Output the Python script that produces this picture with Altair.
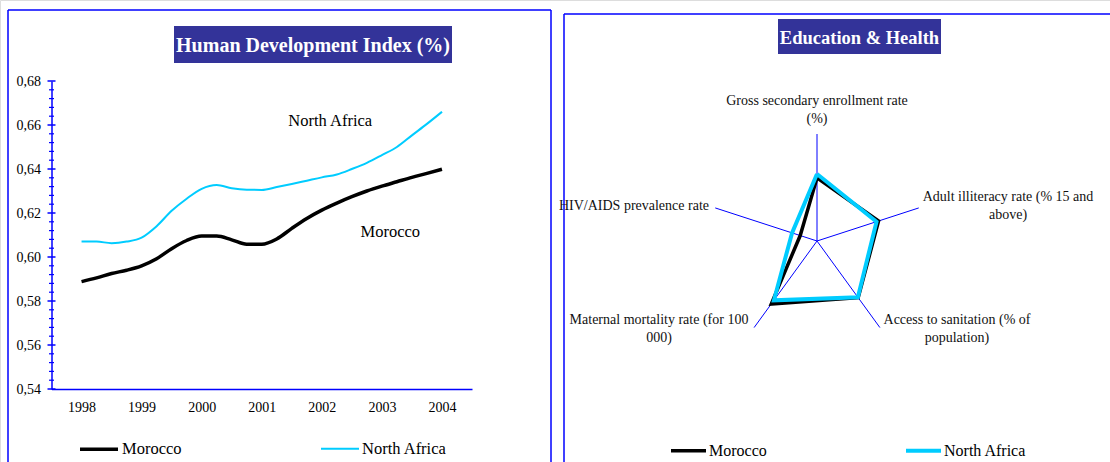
import altair as alt
import pandas as pd

# ---------------- data ----------------
series_names = ["Morocco", "North Africa"]

years = [1998.00, 1998.25, 1998.50, 1998.75, 1999.00, 1999.25, 1999.50, 1999.75,
         2000.00, 2000.25, 2000.50, 2000.75, 2001.00, 2001.25, 2001.50, 2001.75,
         2002.00, 2002.25, 2002.50, 2002.75, 2003.00, 2003.25, 2003.50, 2003.75, 2004.00]
morocco_hdi = [0.5888, 0.5905, 0.5925, 0.5940, 0.5960, 0.5992, 0.6038, 0.6075,
               0.6095, 0.6095, 0.6078, 0.6058, 0.6058, 0.6082, 0.6130, 0.6175,
               0.6213, 0.6245, 0.6274, 0.6300, 0.6322, 0.6342, 0.6362, 0.6380, 0.6399]
north_africa_hdi = [0.6070, 0.6070, 0.6063, 0.6070, 0.6088, 0.6140, 0.6210, 0.6265,
                    0.6310, 0.6327, 0.6313, 0.6306, 0.6305, 0.6318, 0.6332, 0.6347,
                    0.6362, 0.6375, 0.6400, 0.6428, 0.6463, 0.6500, 0.6553, 0.6605, 0.6660]
year_labels = [1998, 1999, 2000, 2001, 2002, 2003, 2004]
hdi_major_ticks = [0.54, 0.56, 0.58, 0.60, 0.62, 0.64, 0.66, 0.68]

radar_axes = ["Gross secondary enrollment rate (%)",
              "Adult illiteracy rate (% 15 and above)",
              "Access to sanitation (% of population)",
              "Maternal mortality rate (for 100 000)",
              "HIV/AIDS prevalence rate"]
radar_label_lines = [["Gross secondary enrollment rate", "(%)"],
                     ["Adult illiteracy rate (% 15 and", "above)"],
                     ["Access to sanitation (% of", "population)"],
                     ["Maternal mortality rate (for 100", "000)"],
                     ["HIV/AIDS prevalence rate"]]
morocco_radar = [0.59, 0.605, 0.655, 0.727, 0.165]
north_africa_radar = [0.626, 0.585, 0.65, 0.685, 0.245]

# ---------------- style / layout ----------------
FONT = "Liberation Serif"
BLUE = "#0000FF"
NAVY = "#333399"
CYAN = "#00CCFF"
W, H = 1110, 462

dummy = pd.DataFrame({"d": [0]})


def rule(x1, y1, x2, y2, color=BLUE, w=1.5):
    return alt.Chart(dummy).mark_rule(color=color, strokeWidth=w).encode(
        x=alt.value(x1), y=alt.value(y1), x2=alt.value(x2), y2=alt.value(y2))


def title_box(x1, x2, y1, y2, text, size):
    box = alt.Chart(dummy).mark_rect(color=NAVY).encode(
        x=alt.value(x1), x2=alt.value(x2), y=alt.value(y1), y2=alt.value(y2))
    txt = alt.Chart(dummy).mark_text(
        text=text, font=FONT, fontSize=size, fontWeight="bold", color="white",
        align="center", baseline="middle").encode(
        x=alt.value((x1 + x2) / 2), y=alt.value((y1 + y2) / 2 + 1))
    return [box, txt]


# ---------------- left: HDI line chart ----------------
hdi_df = pd.DataFrame({
    "year": years * 2,
    "value": morocco_hdi + north_africa_hdi,
    "series": [series_names[0]] * len(years) + [series_names[1]] * len(years),
})

xs = alt.Scale(domain=[1997.5, 2004.5], range=[51.5, 472], nice=False, zero=False)
ys = alt.Scale(domain=[0.54, 0.68], range=[389, 81], nice=False, zero=False)

legend_l = alt.Legend(orient="none", legendX=78, legendY=428, direction="horizontal",
                      title=None, symbolType="stroke", symbolSize=1444,
                      labelFont=FONT, labelFontSize=16.5, labelColor="black",
                      labelOffset=2, columnPadding=135, padding=0)

x_axis = alt.Axis(orient="bottom", offset=-(H - 389), values=year_labels, format="d",
                  ticks=False, grid=False, title=None, domainColor=BLUE, domainWidth=1.5,
                  labelFont=FONT, labelFontSize=14, labelColor="black",
                  labelPadding=11, labelFlush=False, labelOverlap=False)
y_axis = alt.Axis(orient="left", offset=-51.5, values=hdi_major_ticks,
                  labelExpr="replace(format(datum.value, '.2f'), '.', ',')",
                  ticks=False, grid=False, title=None, domainColor=BLUE, domainWidth=1.5,
                  labelFont=FONT, labelFontSize=14, labelColor="black",
                  labelPadding=11, labelFlush=False, labelOverlap=False)

lines = alt.Chart(hdi_df).mark_line(interpolate="monotone").encode(
    x=alt.X("year:Q", scale=xs, axis=x_axis),
    y=alt.Y("value:Q", scale=ys, axis=y_axis),
    color=alt.Color("series:N", scale=alt.Scale(domain=series_names, range=["#000000", CYAN]),
                    legend=legend_l),
    strokeWidth=alt.StrokeWidth("series:N", scale=alt.Scale(domain=series_names, range=[3.5, 2.0]),
                                legend=legend_l),
)

major_df = pd.DataFrame({"value": hdi_major_ticks})
minor_df = pd.DataFrame({"value": [round(0.54 + 0.004 * k, 3) for k in range(36) if k % 5 != 0]})

major_ticks = alt.Chart(major_df).mark_rule(color=BLUE, strokeWidth=1.5).encode(
    y=alt.Y("value:Q", scale=ys, axis=None), x=alt.value(47.5), x2=alt.value(55.5))
minor_ticks = alt.Chart(minor_df).mark_rule(color=BLUE, strokeWidth=1.2).encode(
    y=alt.Y("value:Q", scale=ys, axis=None), x=alt.value(49), x2=alt.value(54))

annot_df = pd.DataFrame({"label": ["North Africa", "Morocco"],
                         "year": [2002.14, 2003.14], "value": [0.6618, 0.6114]})
annots = alt.Chart(annot_df).mark_text(font=FONT, fontSize=16.5, color="black",
                                       align="center", baseline="middle").encode(
    x=alt.X("year:Q", scale=xs, axis=None), y=alt.Y("value:Q", scale=ys, axis=None),
    text="label:N")

# ---------------- right: radar ----------------
radar_rows = []
for s, vals in zip(series_names, [morocco_radar, north_africa_radar]):
    for k in range(6):
        radar_rows.append({"series": s, "k": k, "idx": k % 5, "v": vals[k % 5]})
radar_df = pd.DataFrame(radar_rows)
spoke_df = pd.DataFrame({"axis": radar_axes, "idx": list(range(5))})

R = 107
CX, CY = 817, 241
rx = alt.Scale(domain=[-1, 1], range=[CX - R, CX + R], nice=False, zero=False)
ry = alt.Scale(domain=[-1, 1], range=[CY + R, CY - R], nice=False, zero=False)

spokes = alt.Chart(spoke_df).transform_calculate(
    ang="PI/2 - datum.idx*2*PI/5", cx="0", cy="0",
    ex="cos(datum.ang)", ey="sin(datum.ang)").mark_rule(color=BLUE, strokeWidth=1).encode(
    x=alt.X("cx:Q", scale=rx, axis=None), y=alt.Y("cy:Q", scale=ry, axis=None),
    x2="ex:Q", y2="ey:Q")

legend_r = alt.Legend(orient="none", legendX=669, legendY=431, direction="horizontal",
                      title=None, symbolType="stroke", symbolSize=1225,
                      labelFont=FONT, labelFontSize=16, labelColor="black",
                      labelOffset=1, columnPadding=131, padding=0)

radar_lines = alt.Chart(radar_df).transform_calculate(
    ang="PI/2 - datum.idx*2*PI/5",
    cx="datum.v*cos(datum.ang)", cy="datum.v*sin(datum.ang)").mark_line(
    strokeJoin="miter").encode(
    x=alt.X("cx:Q", scale=rx, axis=None), y=alt.Y("cy:Q", scale=ry, axis=None),
    order="k:Q",
    color=alt.Color("series:N", scale=alt.Scale(domain=series_names, range=["#000000", CYAN]),
                    legend=legend_r),
    strokeWidth=alt.StrokeWidth("series:N", scale=alt.Scale(domain=series_names, range=[3.5, 4.0]),
                                legend=legend_r),
)

# label anchors (page px): (x, first-line y, align)
label_pos = [(817, 101, "center"), (1008, 197, "center"), (957, 320, "center"),
             (659, 320, "center"), (709, 206, "right")]
label_layers = []
for lines_txt, (lx, ly, al) in zip(radar_label_lines, label_pos):
    for j, t in enumerate(lines_txt):
        label_layers.append(alt.Chart(dummy).mark_text(
            text=t, font=FONT, fontSize=14, color="#111111", align=al, baseline="middle").encode(
            x=alt.value(lx), y=alt.value(ly + 18 * j)))

# ---------------- assemble ----------------
layers = [rule(8, 10, 8, H), rule(8, 10, 551, 10), rule(551, 10, 551, H),
          rule(564, 14, 564, H), rule(564, 14, W, 14)]
layers += title_box(174, 452, 26, 63, "Human Development Index (%)", 20)
layers += title_box(778, 941, 19, 54, "Education & Health", 18.5)
layers += [lines, major_ticks, minor_ticks, annots, spokes, radar_lines] + label_layers

chart = alt.layer(*layers).resolve_scale(
    x="independent", y="independent", color="independent", strokeWidth="independent"
).resolve_axis(x="independent", y="independent").resolve_legend(
    color="independent", strokeWidth="independent"
).properties(
    width=W, height=H, padding=0, background="white",
    autosize=alt.AutoSizeParams(type="none")
).configure_view(stroke="transparent", strokeWidth=0).configure(font=FONT)

chart.save("out.html", embed_options={"renderer": "svg", "actions": False})
